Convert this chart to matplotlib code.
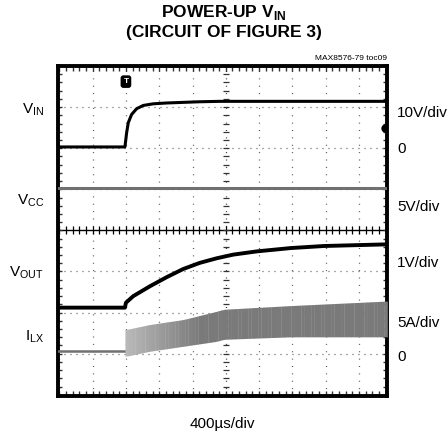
import numpy as np
import matplotlib
matplotlib.use("Agg")
import matplotlib.pyplot as plt
from matplotlib.colors import LinearSegmentedColormap

plt.rcParams['font.family'] = ['Liberation Sans', 'DejaVu Sans']
plt.rcParams['mathtext.fontset'] = 'custom'
plt.rcParams['mathtext.rm'] = 'Liberation Sans'
plt.rcParams['mathtext.bf'] = 'Liberation Sans:bold'

# time in divisions (400us/div), screen level in divisions
vin_t = [-0.04, 1.97, 2.02, 2.07, 2.17, 2.32, 2.52, 2.82, 3.22, 4.22, 4.82, 9.84]
vin_y = [6.03, 6.03, 6.37, 6.62, 6.82, 6.96, 7.04, 7.08, 7.10, 7.13, 7.14, 7.14]

vcc_t = [-0.04, 9.84]
vcc_y = [5.03, 5.03]

vout_t = [-0.04, 1.97, 2.00, 2.22, 2.72, 3.22, 3.72, 4.22, 4.72, 5.22, 5.94, 6.95, 7.95, 9.84]
vout_y = [2.12, 2.12, 2.24, 2.40, 2.64, 2.86, 3.06, 3.21, 3.32, 3.41, 3.49, 3.57, 3.62, 3.66]

ilx_base_t = [-0.04, 1.97]
ilx_base_y = [1.06, 1.06]

ilx_t = [1.97, 2.02, 2.72, 3.72, 4.72, 4.94, 6.95, 9.84]
ilx_top = [1.59, 1.59, 1.71, 1.83, 2.03, 2.08, 2.17, 2.28]
ilx_bot = [0.94, 0.94, 1.06, 1.18, 1.30, 1.35, 1.41, 1.41]

W, H = 448, 437
fig = plt.figure(figsize=(W / 100, H / 100), dpi=100)
ax = fig.add_axes([58 / W, 41 / H, 329 / W, 330 / H])
ax.set_xlim(-0.04, 9.84)
ax.set_ylim(-0.03, 8.0)
ax.set_xticks([])
ax.set_yticks([])
for s in ax.spines.values():
    s.set_linewidth(2.8)

# graticule
for k in range(0, 10):
    if k != 5:
        ax.axvline(k, color='#555555', lw=0.9, ls=(0, (0.8, 5.1)), zorder=1)
for k in range(1, 8):
    if k != 4:
        ax.axhline(k, color='#555555', lw=0.9, ls=(0, (0.8, 4.0)), zorder=1)
ax.axhline(4, color='black', lw=1.0, zorder=1)
ax.axvline(5, color='#333333', lw=0.9, ls=(0, (0.8, 5.1)), zorder=1)
mx = np.arange(0, 10, 0.2)
my = np.arange(0.2, 8, 0.2)
ax.plot(mx, np.full_like(mx, 4), ls='none', marker='|', ms=6, mew=0.9, color='black', zorder=1)
ax.plot(np.full_like(my, 5), my, ls='none', marker='_', ms=5, mew=0.9, color='#333333', zorder=1)
# edge ticks
ax.plot(mx, np.full_like(mx, 7.95), ls='none', marker='|', ms=5, mew=1.0, color='#333333', zorder=2)
ax.plot(mx, np.full_like(mx, 0.02), ls='none', marker='|', ms=5, mew=1.0, color='#333333', zorder=2)
ax.plot(np.full_like(my, 0.0), my, ls='none', marker='_', ms=5, mew=1.0, color='#333333', zorder=2)
ax.plot(np.full_like(my, 9.80), my, ls='none', marker='_', ms=5, mew=1.0, color='#333333', zorder=2)

# traces
ax.plot(vcc_t, vcc_y, color='#707070', lw=2.2, zorder=3)
ax.plot(ilx_base_t, ilx_base_y, color='#707070', lw=1.8, zorder=3)
# switching band, shaded light at switch-on and darker later
cm = LinearSegmentedColormap.from_list('band', ['#b8b8b8', '#7a7a7a'])
edges = np.linspace(ilx_t[0], ilx_t[-1], 80)
for a, b in zip(edges[:-1], edges[1:]):
    xs = [a, b + 0.01]
    lvl = min(1.0, (a - ilx_t[0]) / 2.2)
    ax.fill_between(xs, np.interp(xs, ilx_t, ilx_bot), np.interp(xs, ilx_t, ilx_top),
                    color=cm(lvl), lw=0, zorder=3)
ax.plot(vin_t, vin_y, color='black', lw=2.2, zorder=4)
ax.plot(vout_t, vout_y, color='black', lw=2.8, zorder=4)

# trigger markers
ax.text(2.0, 7.62, 'T', ha='center', va='center', color='white', fontsize=6,
        fontweight='bold', zorder=5,
        bbox=dict(boxstyle='round,pad=0.25', fc='black', ec='black'))
ax.plot([9.78], [6.5], marker='o', ms=5, color='black', zorder=5)


def ftxt(x, y, s, **kw):
    fig.text(x / W, 1 - y / H, s, **kw)


ftxt(224, 13, r'POWER-UP V$_{\mathbf{IN}}$', ha='center', va='center', fontsize=12.5, fontweight='bold')
ftxt(224, 33, '(CIRCUIT OF FIGURE 3)', ha='center', va='center', fontsize=12.5, fontweight='bold')
ftxt(387, 59, 'MAX8576-79 toc09', ha='right', va='center', fontsize=6)

left = [(110, r'V$_{\mathrm{IN}}$'), (201, r'V$_{\mathrm{CC}}$'),
        (273, r'V$_{\mathrm{OUT}}$'), (337, r'I$_{\mathrm{LX}}$')]
for y, s in left:
    ftxt(44, y, s, ha='right', va='center', fontsize=11)

right = [(113, '10V/div'), (149, '0'), (207, '5V/div'), (263, '1V/div'),
         (323, '5A/div'), (357, '0')]
for y, s in right:
    ftxt(397, y, s, ha='left', va='center', fontsize=11)

ftxt(222, 424, '400\u00b5s/div', ha='center', va='center', fontsize=11)

fig.savefig('out.png', dpi=100)
